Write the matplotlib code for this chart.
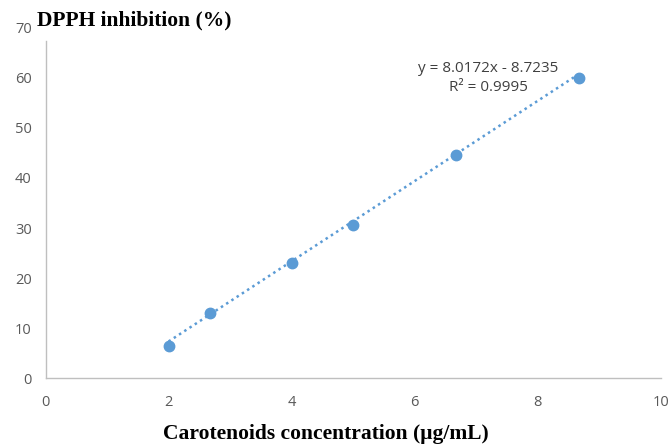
import matplotlib
matplotlib.use("Agg")
import matplotlib.pyplot as plt
import numpy as np

conc = [2.0, 2.67, 4.0, 5.0, 6.67, 8.67]
inhibition = [6.4, 13.1, 23.1, 30.6, 44.5, 59.9]
slope = 8.0172
intercept = -8.7235
r2 = 0.9995
xticks = [0, 2, 4, 6, 8, 10]
yticks = [0, 10, 20, 30, 40, 50, 60, 70]

fig = plt.figure(figsize=(6.7, 4.44), dpi=100)
ax = fig.add_axes([0.068, 0.1486, 0.918, 0.7884])
blue = "#5B9BD5"

xt = np.array([min(conc), max(conc)])
ax.plot(xt, slope * xt + intercept, linestyle=(0, (1, 1.5)), color=blue, linewidth=1.8, zorder=2)
ax.plot(conc, inhibition, 'o', color=blue, markersize=7.5, zorder=3)

ax.set_xlim(0, 10)
ax.set_ylim(0, 70)
ax.set_xticks(xticks)
ax.set_yticks(yticks)
for s in ['top', 'right']:
    ax.spines[s].set_visible(False)
for s in ['left', 'bottom']:
    ax.spines[s].set_color('#BFBFBF')
    ax.spines[s].set_linewidth(1.0)
ax.spines['left'].set_bounds(0, 67.4)
ax.tick_params(axis='both', length=0, labelsize=10.5, labelcolor='#595959')
ax.tick_params(axis='x', pad=12)
ax.tick_params(axis='y', pad=10)
for lab in ax.get_xticklabels() + ax.get_yticklabels():
    lab.set_family('Open Sans')

eq = f"y = {slope:.4f}x - {abs(intercept):.4f}\nR² = {r2:.4f}"
ax.text(7.2, 60.0, eq, ha='center', va='center', fontsize=11, color='#404040',
        family='Open Sans', linespacing=1.35)

fig.text(0.055, 0.953, "DPPH inhibition (%)", fontsize=15.5, fontweight='bold',
         family='Liberation Serif', ha='left', va='center')
fig.text(0.486, 0.022, "Carotenoids concentration (μg/mL)", fontsize=15.5, fontweight='bold',
         family='Liberation Serif', ha='center', va='center')

fig.savefig("out.png", dpi=100)
